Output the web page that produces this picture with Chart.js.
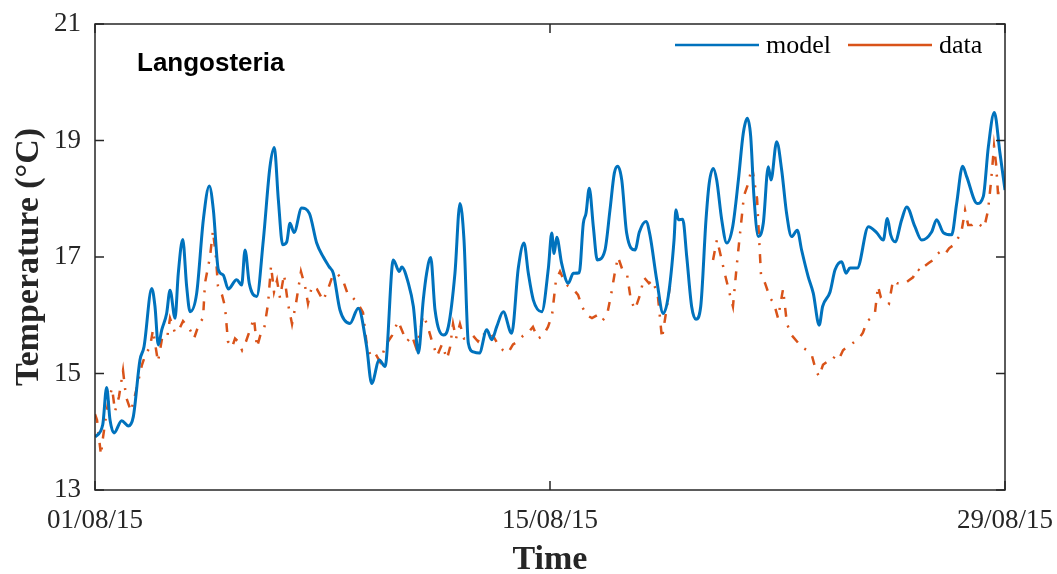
<!DOCTYPE html>
<html>
<head>
<meta charset="utf-8">
<script src="https://cdn.jsdelivr.net/npm/chart.js@4.4.1/dist/chart.umd.min.js"></script>
<style>
  body { margin: 0; background: #fff; }
  canvas { display: block; }
</style>
</head>
<body>
<canvas id="myChart" width="1057" height="574"></canvas>
<script>
// x values are hours since 01/08/15 00:00
const xTickHours = [0, 336, 672];
const xTickLabels = ['01/08/15', '15/08/15', '29/08/15'];
const yTicks = [13, 15, 17, 19, 21];

const modelHours = [0,5.7,8.6,11.1,14.0,19.7,24.6,28.3,33.2,36.2,41.9,44.3,46.7,49.3,52.9,55.4,59.1,61.5,64.8,67.7,
  70.2,75.1,80.0,84.4,87.4,91.1,94.7,98.4,104.6,108.3,110.8,113.9,119.4,124.3,129.2,132.4,135.4,138.6,141.6,144.0,
  147.0,152.6,158.3,163.7,168.6,173.0,176.0,180.9,188.3,194.4,200.6,204.3,209.9,214.2,220.3,224.7,226.5,231.4,235.1,238.8,
  242.4,244.9,247.9,251.1,257.2,260.9,265.8,269.5,272.5,275.7,279.4,283.8,289.3,293.0,296.6,301.5,307.7,312.6,316.8,320.0,
  323.7,329.9,334.8,337.3,339.0,341.0,344.6,349.5,353.2,357.6,360.6,362.6,365.0,368.0,370.9,376.6,380.3,383.5,386.0,389.0,
  392.6,398.8,402.0,406.9,409.8,414.8,419.6,423.3,427.6,429.0,430.8,434.0,437.0,440.6,443.8,447.3,451.2,453.6,456.6,459.1,
  462.8,466.5,470.9,475.1,478.7,481.7,484.2,486.6,489.8,493.5,497.2,499.2,503.4,507.1,510.7,514.4,518.6,521.8,526.7,530.4,
  534.8,537.3,542.8,546.5,551.4,554.6,557.5,562.9,571.1,577.2,582.1,585.1,587.6,590.8,595.7,599.4,605.5,610.5,617.8,621.5,
  626.4,632.6,636.3,640.7,643.7,651.5,656.0,659.7,664.1,668.3,672];
const modelTemp = [13.91,14.12,14.76,14.2,13.98,14.19,14.1,14.26,15.23,15.46,16.46,16.15,15.49,15.75,16.03,16.43,15.95,16.72,17.30,16.49,
  16.06,16.38,17.64,18.22,17.81,16.78,16.69,16.45,16.61,16.52,17.12,16.55,16.32,17.29,18.55,18.88,17.98,17.21,17.26,17.58,
  17.42,17.84,17.75,17.24,17.00,16.83,16.72,16.09,15.86,16.12,15.46,14.83,15.23,15.12,16.95,16.75,16.83,16.55,16.15,15.35,
  16.26,16.72,16.99,16.09,15.66,15.80,16.72,17.92,17.29,15.52,15.37,15.35,15.75,15.58,15.80,16.06,15.69,16.81,17.24,16.72,
  16.26,16.06,16.81,17.41,17.06,17.34,16.89,16.55,16.72,16.73,17.58,17.75,18.18,17.52,16.95,17.12,17.81,18.44,18.56,18.32,
  17.41,17.12,17.43,17.61,17.38,16.61,16.03,16.32,17.29,17.81,17.64,17.65,17.00,16.15,15.93,16.15,17.64,18.27,18.52,18.32,
  17.64,17.24,17.52,18.32,19.12,19.38,19.07,18.04,17.35,17.58,18.55,18.32,18.98,18.49,17.75,17.35,17.46,17.12,16.66,16.38,
  15.83,16.15,16.40,16.78,16.92,16.72,16.81,16.81,17.52,17.42,17.29,17.66,17.38,17.26,17.64,17.86,17.52,17.29,17.43,17.64,
  17.42,17.38,17.92,18.56,18.38,17.92,18.04,18.89,19.48,18.78,18.15];

// measured series, null = missing data
const dataHours = [0,1.5,4.4,5.9,9.6,12.6,14.8,17.7,20.7,22.9,26.6,30.3,34.7,37.7,40.6,42.8,46.5,49.5,53.2,55.4,
  59.1,62.0,65.0,70.2,73.1,76.8,79.8,81.2,84.9,87.1,89.3,90.8,93.8,96.0,98.2,101.2,103.4,105.6,108.6,111.5,
  114.5,117.4,119.6,122.6,124.8,127.8,130.0,132.2,134.4,136.6,139.6,142.5,145.5,148.4,152.1,155.1,157.3,160.2,163.9,166.2,
  168.4,172.1,175.8,179.4,183.1,186.8,190.5,194.2,197.9,200.9,203.8,206.8,210.5,213.4,216.4,219.3,223.8,227.4,230.4,234.1,
  237.0,240.0,242.2,245.2,248.9,252.6,256.2,259.9,262.2,264.4,266.6,269.5,272.5,275.4,279.1,282.8,286.5,290.2,293.9,297.6,
  301.3,305.0,308.7,312.4,316.1,319.8,323.4,327.1,330.8,334.5,337.5,340.4,343.4,346.3,349.3,353.0,356.7,359.6,363.3,367.0,
  370.7,374.4,378.1,381.1,384.0,386.2,389.2,392.9,395.8,398.8,402.5,405.4,409.1,412.1,415.8,418.7,421.7,424.6,440,456.4,
  459.3,462.3,465.2,468.9,471.1,474.1,477.0,479.2,482.2,485.2,488.9,491.8,494.8,498.5,501.4,504.4,508.1,511.0,514.7,518.4,
  522.1,525.8,529.5,532.4,534.7,537.6,540.6,543.5,546.5,549.4,552.4,555.3,558.3,561.2,564.2,567.1,570.1,573.1,576.0,578.2,
  580.4,583.4,586.3,589.3,592.3,595.2,598.2,601.1,604.1,607.1,610.0,613.0,615.9,618.9,621.8,624.8,627.8,630.7,633.7,636.6,
  639.6,642.5,644.8,647.7,650.7,653.6,656.6,659.5,661.7,663.9,665.4,666.8,669.8,672];
const dataTemp = [14.3,14.2,13.6,13.9,14.5,14.75,14.35,14.6,15.05,14.6,14.35,14.7,15.15,15.35,15.45,15.75,15.2,15.6,15.6,15.95,
  15.7,15.75,15.9,15.75,15.6,15.85,15.95,16.55,17.0,17.45,17.0,16.5,16.35,16.15,15.55,15.45,15.6,15.55,15.4,15.55,
  15.75,15.95,15.45,15.7,15.75,16.2,16.85,16.4,16.6,16.3,16.7,16.2,15.85,16.2,16.75,16.5,16.2,16.5,16.45,16.35,
  16.25,16.45,16.7,16.7,16.6,16.35,16.3,16.2,16.05,15.45,15.3,15.35,15.2,15.4,15.55,15.65,15.9,15.7,15.55,15.65,
  15.45,15.7,16.0,15.85,15.55,15.3,15.5,15.25,15.45,15.85,15.6,15.85,15.6,15.6,15.65,15.55,15.7,15.6,15.65,15.5,
  15.4,15.35,15.5,15.55,15.65,15.7,15.8,15.6,15.65,15.8,16.0,16.6,16.75,16.6,16.5,16.45,16.35,16.15,16.0,15.95,
  16.0,15.9,16.0,16.35,16.75,17.0,16.8,16.7,16.25,16.1,16.35,16.65,16.55,16.6,16.3,15.6,16.05,16.5,null,16.95,
  17.3,17.0,16.7,16.35,16.15,16.9,17.55,18.05,18.25,18.55,18.0,16.7,16.55,16.3,16.2,15.95,16.45,15.85,15.65,15.55,
  15.45,15.4,15.3,15.05,14.95,15.15,15.2,15.2,15.3,15.25,15.4,15.45,15.5,15.55,15.6,15.7,15.9,15.95,16.05,16.5,
  16.3,16.25,16.2,16.6,16.55,16.55,16.55,16.6,16.65,16.8,16.75,16.85,16.9,16.95,17.05,17.1,17.05,17.15,17.2,17.3,
  17.4,17.8,17.55,17.55,17.6,17.55,17.5,17.8,18.3,18.9,18.6,18.1,18.1,18.05];

const serif = '"Liberation Serif", "Times New Roman", serif';
const axisColor = '#262626';

// box around the axes with inward ticks on all four sides, panel label and legend
const frame = {
  id: 'frame',
  afterDatasetsDraw(chart) {
    const { ctx, chartArea: a, scales: { x, y } } = chart;
    const len = 9;
    ctx.save();
    ctx.strokeStyle = axisColor;
    ctx.lineWidth = 1.5;
    ctx.strokeRect(a.left, a.top, a.right - a.left, a.bottom - a.top);
    ctx.beginPath();
    xTickHours.forEach((h) => {
      const px = x.getPixelForValue(h);
      ctx.moveTo(px, a.bottom); ctx.lineTo(px, a.bottom - len);
      ctx.moveTo(px, a.top); ctx.lineTo(px, a.top + len);
    });
    yTicks.forEach((t) => {
      const py = y.getPixelForValue(t);
      ctx.moveTo(a.left, py); ctx.lineTo(a.left + len, py);
      ctx.moveTo(a.right, py); ctx.lineTo(a.right - len, py);
    });
    ctx.stroke();

    ctx.fillStyle = '#000';
    ctx.font = 'bold 26px "Liberation Sans", Arial, sans-serif';
    ctx.textAlign = 'left';
    ctx.textBaseline = 'alphabetic';
    ctx.fillText('Langosteria', a.left + 42, a.top + 47);

    // legend, top right inside the axes
    const ly = a.top + 21;
    const starts = [a.right - 330, a.right - 157];
    ctx.font = '26px ' + serif;
    ctx.textBaseline = 'middle';
    chart.data.datasets.forEach((d, i) => {
      const lx = starts[i];
      ctx.strokeStyle = d.borderColor;
      ctx.lineWidth = 2.5;
      ctx.beginPath();
      ctx.moveTo(lx, ly);
      ctx.lineTo(lx + 84, ly);
      ctx.stroke();
      ctx.fillStyle = '#000';
      ctx.fillText(d.label, lx + 91, ly + 1);
    });
    ctx.restore();
  }
};

const ctx = document.getElementById('myChart').getContext('2d');
const myChart = new Chart(ctx, {
  type: 'line',
  data: {
    datasets: [{
      label: 'model',
      data: modelHours.map((h, i) => ({ x: h, y: modelTemp[i] })),
      borderColor: '#0072BD',
      borderWidth: 3,
      pointRadius: 0,
      cubicInterpolationMode: 'monotone',
      fill: false
    }, {
      label: 'data',
      data: dataHours.map((h, i) => ({ x: h, y: dataTemp[i] })),
      borderColor: '#D95319',
      borderWidth: 2.5,
      borderDash: [9, 9, 2, 9],
      pointRadius: 0,
      tension: 0,
      spanGaps: false,
      fill: false
    }]
  },
  options: {
    responsive: false,
    animation: false,
    layout: { padding: { top: 24, right: 52, left: 0, bottom: 0 } },
    plugins: {
      tooltip: { enabled: false },
      legend: { display: false }
    },
    scales: {
      x: {
        type: 'linear',
        min: 0,
        max: 672,
        afterBuildTicks: (s) => { s.ticks = xTickHours.map((v) => ({ value: v })); },
        afterFit: (s) => {
          s.height = 84;
          s.paddingLeft = 0;
          s.paddingRight = 0;
        },
        grid: { display: false, drawTicks: false },
        border: { display: false },
        ticks: {
          padding: 15,
          color: axisColor,
          maxRotation: 0,
          autoSkip: false,
          font: { family: serif, size: 27 },
          callback: (v, i) => xTickLabels[i]
        },
        title: {
          display: true,
          text: 'Time',
          color: axisColor,
          font: { family: serif, size: 34, weight: 'bold', lineHeight: 1 },
          padding: { top: 0, bottom: -3 }
        }
      },
      y: {
        min: 13,
        max: 21,
        afterFit: (s) => {
          s.width = 95;
          s.paddingTop = 0;
          s.paddingBottom = 0;
        },
        grid: { display: false, drawTicks: false },
        border: { display: false },
        ticks: {
          stepSize: 2,
          padding: 14,
          color: axisColor,
          font: { family: serif, size: 27 }
        },
        title: {
          display: true,
          text: 'Temperature (°C)',
          color: axisColor,
          font: { family: serif, size: 34, weight: 'bold', lineHeight: 1 },
          padding: { top: 12, bottom: 0 }
        }
      }
    }
  },
  plugins: [frame]
});
</script>
</body>
</html>
